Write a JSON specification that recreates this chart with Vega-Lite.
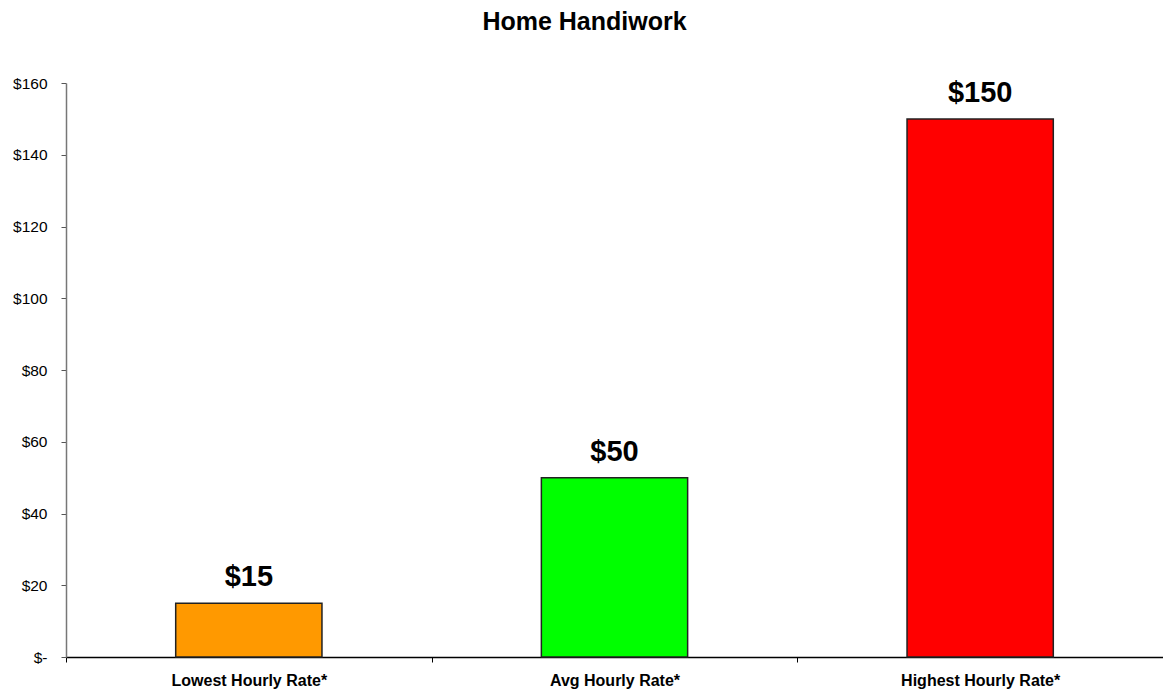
{
  "$schema": "https://vega.github.io/schema/vega-lite/v6.json",
  "autosize": "none",
  "width": 1097,
  "height": 574,
  "padding": {"left": 66, "top": 83, "right": 0, "bottom": 32},
  "background": "white",
  "title": {
    "text": "Home Handiwork",
    "font": "Liberation Sans",
    "fontSize": 25,
    "fontWeight": "bold",
    "color": "black",
    "anchor": "middle",
    "frame": "group",
    "dx": -30,
    "offset": 41
  },
  "data": {
    "values": [
      {"category": "Lowest Hourly Rate*", "rate": 15, "label": "$15", "color": "#FF9900"},
      {"category": "Avg Hourly Rate*", "rate": 50, "label": "$50", "color": "#00FF00"},
      {"category": "Highest Hourly Rate*", "rate": 150, "label": "$150", "color": "#FF0000"}
    ]
  },
  "encoding": {
    "x": {
      "field": "category",
      "type": "nominal",
      "sort": null,
      "scale": {"paddingInner": 0, "paddingOuter": 0},
      "axis": {
        "title": null,
        "labelAngle": 0,
        "labelFont": "Liberation Sans",
        "labelFontSize": 16,
        "labelFontWeight": "bold",
        "labelColor": "black",
        "labelPadding": 10,
        "tickBand": "extent",
        "tickSize": 5,
        "tickColor": "black",
        "domainColor": "black",
        "domainWidth": 1.5
      }
    },
    "y": {
      "field": "rate",
      "type": "quantitative",
      "scale": {"domain": [0, 160], "nice": false},
      "axis": {
        "title": null,
        "values": [0, 20, 40, 60, 80, 100, 120, 140, 160],
        "labelExpr": "datum.value == 0 ? '$-' : '$' + datum.value",
        "labelFont": "Liberation Sans",
        "labelFontSize": 15.5,
        "labelColor": "black",
        "labelPadding": 14,
        "grid": false,
        "tickSize": 5,
        "tickColor": "#555555",
        "domainColor": "#777777",
        "domainWidth": 1.5
      }
    }
  },
  "layer": [
    {
      "mark": {"type": "bar", "stroke": "#222222", "strokeWidth": 1.5, "width": {"band": 0.4}},
      "encoding": {
        "color": {"field": "color", "type": "nominal", "scale": null}
      }
    },
    {
      "mark": {
        "type": "text",
        "font": "Liberation Sans",
        "fontSize": 29,
        "fontWeight": "bold",
        "color": "black",
        "baseline": "alphabetic",
        "dy": -17
      },
      "encoding": {
        "text": {"field": "label"}
      }
    }
  ],
  "config": {"view": {"stroke": null}}
}
